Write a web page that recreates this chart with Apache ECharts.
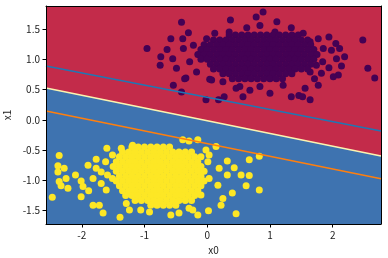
<!DOCTYPE html>
<html>
<head>
<meta charset="utf-8">
<script src="https://cdn.jsdelivr.net/npm/echarts@6/dist/echarts.min.js"></script>
<style>html,body{margin:0;padding:0;background:#fff}#c{width:388px;height:258px}</style>
</head>
<body>
<div id="c"></div>
<script>
const xTicks = [-2, -1, 0, 1, 2];
const yTicks = [-1.5, -1.0, -0.5, 0.0, 0.5, 1.0, 1.5];
const xRange = [-2.57, 2.77];
const yRange = [-1.72, 1.88];
const boundary = [[-2.57, 0.525], [2.77, -0.597]];
const marginUpper = [[-2.57, 0.888], [2.77, -0.185]];
const marginLower = [[-2.57, 0.145], [2.77, -0.972]];

const class0 = [
  [-0.41,1.61],[-0.96,1.18],[-0.74,1.04],[-0.75,0.90],[-0.64,1.16],[-0.58,1.34],[-0.30,1.44],[-0.39,1.34],
  [-0.55,1.01],[-0.49,0.85],[-0.34,0.69],[-0.54,0.57],[-0.41,0.46],[-0.01,1.34],[0.12,1.43],[-0.02,0.33],
  [0.18,0.33],[0.07,0.66],[-0.17,0.79],[-0.12,1.07],[-0.28,0.96],[-0.38,1.18],[-0.22,1.23],[-0.36,0.68],
  [0.89,1.78],[0.37,1.65],[0.78,1.70],[1.11,1.62],[1.34,1.52],[0.63,1.52],[0.35,1.45],[0.84,1.56],
  [1.08,1.45],[0.25,0.63],[0.52,0.55],[0.68,0.49],[1.00,0.44],[1.34,0.38],[0.27,0.38],[0.57,0.38],
  [1.46,0.40],[1.21,0.57],[0.84,0.55],[0.46,0.52],[0.04,0.67],
  [2.48,1.32],[2.56,0.85],[2.67,0.69],[1.94,1.37],[2.05,1.26],[2.11,1.18],[2.19,1.04],[2.14,0.89],
  [2.09,0.74],[2.01,0.71],[1.94,0.86],[1.82,0.77],[1.77,0.57],[1.71,0.68],[1.64,0.33],[1.52,0.38],
  [1.56,0.52],[1.53,1.43],[1.77,1.34],[1.64,1.29],[1.85,1.18],[1.98,1.15],[2.06,1.01],[1.84,0.96],
  [1.74,0.90],[1.64,0.79],
  [0.35,1.40],[0.45,1.40],[0.55,1.40],[0.65,1.40],[0.75,1.40],[0.85,1.40],[0.95,1.40],[1.05,1.40],[1.15,1.40],[1.25,1.40],[1.35,1.40],[1.45,1.40],
  [0.10,1.32],[0.20,1.32],[0.30,1.32],[0.40,1.32],[0.50,1.32],[0.60,1.32],[0.70,1.32],[0.80,1.32],[0.90,1.32],[1.00,1.32],[1.10,1.32],[1.20,1.32],[1.30,1.32],[1.40,1.32],[1.50,1.32],[1.60,1.32],
  [-0.05,1.24],[0.05,1.24],[0.15,1.24],[0.25,1.24],[0.35,1.24],[0.45,1.24],[0.55,1.24],[0.65,1.24],[0.75,1.24],[0.85,1.24],[0.95,1.24],[1.05,1.24],[1.15,1.24],[1.25,1.24],[1.35,1.24],[1.45,1.24],[1.55,1.24],[1.65,1.24],
  [-0.10,1.16],[0.00,1.16],[0.10,1.16],[0.20,1.16],[0.30,1.16],[0.40,1.16],[0.50,1.16],[0.60,1.16],[0.70,1.16],[0.80,1.16],[0.90,1.16],[1.00,1.16],[1.10,1.16],[1.20,1.16],[1.30,1.16],[1.40,1.16],[1.50,1.16],[1.60,1.16],[1.70,1.16],
  [-0.15,1.08],[-0.05,1.08],[0.05,1.08],[0.15,1.08],[0.25,1.08],[0.35,1.08],[0.45,1.08],[0.55,1.08],[0.65,1.08],[0.75,1.08],[0.85,1.08],[0.95,1.08],[1.05,1.08],[1.15,1.08],[1.25,1.08],[1.35,1.08],[1.45,1.08],[1.55,1.08],[1.65,1.08],[1.75,1.08],
  [-0.10,1.00],[0.00,1.00],[0.10,1.00],[0.20,1.00],[0.30,1.00],[0.40,1.00],[0.50,1.00],[0.60,1.00],[0.70,1.00],[0.80,1.00],[0.90,1.00],[1.00,1.00],[1.10,1.00],[1.20,1.00],[1.30,1.00],[1.40,1.00],[1.50,1.00],[1.60,1.00],[1.70,1.00],
  [0.05,0.92],[0.15,0.92],[0.25,0.92],[0.35,0.92],[0.45,0.92],[0.55,0.92],[0.65,0.92],[0.75,0.92],[0.85,0.92],[0.95,0.92],[1.05,0.92],[1.15,0.92],[1.25,0.92],[1.35,0.92],[1.45,0.92],[1.55,0.92],[1.65,0.92],
  [0.10,0.84],[0.20,0.84],[0.30,0.84],[0.40,0.84],[0.50,0.84],[0.60,0.84],[0.70,0.84],[0.80,0.84],[0.90,0.84],[1.00,0.84],[1.10,0.84],[1.20,0.84],[1.30,0.84],[1.40,0.84],[1.50,0.84],[1.60,0.84],
  [0.25,0.76],[0.35,0.76],[0.45,0.76],[0.55,0.76],[0.65,0.76],[0.75,0.76],[0.85,0.76],[0.95,0.76],[1.05,0.76],[1.15,0.76],[1.25,0.76],[1.35,0.76],
  [0.40,0.68],[0.50,0.68],[0.60,0.68],[0.70,0.68],[0.80,0.68],[0.90,0.68],[1.00,0.68],[1.10,0.68],[1.20,0.68]
];

const class1 = [
  [-1.60,-0.47],[-2.36,-0.59],[-2.38,-0.76],[-2.28,-0.80],[-2.38,-0.86],[-2.25,-0.97],[-2.36,-1.02],[-2.33,-1.09],
  [-2.22,-1.13],[-2.10,-0.91],[-2.01,-1.01],[-1.98,-1.10],[-1.89,-1.17],[-2.01,-1.27],[-2.47,-1.28],[-1.90,-0.75],
  [-1.77,-0.65],[-1.62,-0.69],[-1.82,-1.41],[-1.72,-1.41],[-1.66,-1.54],[-1.77,-0.80],[-1.82,-0.97],[-1.69,-0.86],
  [-1.59,-0.91],[-1.69,-1.05],[-1.61,-1.16],[-1.51,-0.97],[-1.51,-0.58],[-1.39,-1.61],[-1.24,-1.49],[-1.06,-1.49],
  [-0.92,-1.52],[-0.58,-1.57],[-0.45,-1.54],[-1.29,-1.38],[-1.37,-0.47],[-1.19,-0.42],[-0.39,-0.33],[-0.29,-0.35],
  [-0.15,-0.33],[0.14,-0.44],[-0.02,-0.50],[0.03,-0.58],[0.01,-0.69],[0.32,-0.68],[0.43,-0.79],[0.67,-0.66],
  [0.54,-0.91],[0.67,-0.92],[0.62,-1.09],[0.32,-0.91],[0.19,-0.80],[0.40,-1.21],[0.25,-1.30],[0.22,-1.41],
  [0.02,-1.50],[0.46,-1.55],[-0.15,-1.57],[-0.23,-1.49],[-0.10,-1.24],[0.17,-1.08],[0.03,-0.97],[0.83,-0.60],
  [0.83,-1.16],[-0.29,-1.46],
  [-1.20,-0.45],[-1.10,-0.45],[-1.00,-0.45],[-0.90,-0.45],[-0.80,-0.45],[-0.70,-0.45],[-0.60,-0.45],
  [-1.35,-0.53],[-1.25,-0.53],[-1.15,-0.53],[-1.05,-0.53],[-0.95,-0.53],[-0.85,-0.53],[-0.75,-0.53],[-0.65,-0.53],[-0.55,-0.53],[-0.45,-0.53],[-0.35,-0.53],[-0.25,-0.53],
  [-1.40,-0.61],[-1.30,-0.61],[-1.20,-0.61],[-1.10,-0.61],[-1.00,-0.61],[-0.90,-0.61],[-0.80,-0.61],[-0.70,-0.61],[-0.60,-0.61],[-0.50,-0.61],[-0.40,-0.61],[-0.30,-0.61],[-0.20,-0.61],[-0.10,-0.61],
  [-1.45,-0.69],[-1.35,-0.69],[-1.25,-0.69],[-1.15,-0.69],[-1.05,-0.69],[-0.95,-0.69],[-0.85,-0.69],[-0.75,-0.69],[-0.65,-0.69],[-0.55,-0.69],[-0.45,-0.69],[-0.35,-0.69],[-0.25,-0.69],[-0.15,-0.69],
  [-1.50,-0.77],[-1.40,-0.77],[-1.30,-0.77],[-1.20,-0.77],[-1.10,-0.77],[-1.00,-0.77],[-0.90,-0.77],[-0.80,-0.77],[-0.70,-0.77],[-0.60,-0.77],[-0.50,-0.77],[-0.40,-0.77],[-0.30,-0.77],[-0.20,-0.77],[-0.10,-0.77],
  [-1.45,-0.85],[-1.35,-0.85],[-1.25,-0.85],[-1.15,-0.85],[-1.05,-0.85],[-0.95,-0.85],[-0.85,-0.85],[-0.75,-0.85],[-0.65,-0.85],[-0.55,-0.85],[-0.45,-0.85],[-0.35,-0.85],[-0.25,-0.85],[-0.15,-0.85],[-0.05,-0.85],
  [-1.40,-0.93],[-1.30,-0.93],[-1.20,-0.93],[-1.10,-0.93],[-1.00,-0.93],[-0.90,-0.93],[-0.80,-0.93],[-0.70,-0.93],[-0.60,-0.93],[-0.50,-0.93],[-0.40,-0.93],[-0.30,-0.93],[-0.20,-0.93],[-0.10,-0.93],
  [-1.45,-1.01],[-1.35,-1.01],[-1.25,-1.01],[-1.15,-1.01],[-1.05,-1.01],[-0.95,-1.01],[-0.85,-1.01],[-0.75,-1.01],[-0.65,-1.01],[-0.55,-1.01],[-0.45,-1.01],[-0.35,-1.01],[-0.25,-1.01],[-0.15,-1.01],[-0.05,-1.01],
  [-1.40,-1.09],[-1.30,-1.09],[-1.20,-1.09],[-1.10,-1.09],[-1.00,-1.09],[-0.90,-1.09],[-0.80,-1.09],[-0.70,-1.09],[-0.60,-1.09],[-0.50,-1.09],[-0.40,-1.09],[-0.30,-1.09],[-0.20,-1.09],[-0.10,-1.09],
  [-1.35,-1.17],[-1.25,-1.17],[-1.15,-1.17],[-1.05,-1.17],[-0.95,-1.17],[-0.85,-1.17],[-0.75,-1.17],[-0.65,-1.17],[-0.55,-1.17],[-0.45,-1.17],[-0.35,-1.17],[-0.25,-1.17],[-0.15,-1.17],
  [-1.30,-1.25],[-1.20,-1.25],[-1.10,-1.25],[-1.00,-1.25],[-0.90,-1.25],[-0.80,-1.25],[-0.70,-1.25],[-0.60,-1.25],[-0.50,-1.25],[-0.40,-1.25],[-0.30,-1.25],[-0.20,-1.25],
  [-1.15,-1.33],[-1.05,-1.33],[-0.95,-1.33],[-0.85,-1.33],[-0.75,-1.33],[-0.65,-1.33],[-0.55,-1.33],[-0.45,-1.33],[-0.35,-1.33],[-0.25,-1.33],
  [-0.90,-1.41],[-0.80,-1.41],[-0.70,-1.41],[-0.60,-1.41],[-0.50,-1.41]
];

const FONT = '"Noto Sans CJK SC", "DejaVu Sans", sans-serif';
const chart = echarts.init(document.getElementById('c'), null, {renderer: 'canvas'});
const fmt = v => (Math.abs(v) < 1e-9 ? '0.0' : v.toFixed(1));
chart.setOption({
  animation: false,
  grid: {left: 46, top: 6, right: 7, bottom: 34, outerBoundsMode: 'none', containLabel: false},
  xAxis: [{
    type: 'value', min: xRange[0], max: xRange[1], z: 10,
    name: 'x0', nameLocation: 'middle', nameGap: 17,
    nameTextStyle: {color: '#222', fontSize: 10, fontFamily: FONT},
    axisLine: {show: true, onZero: false, lineStyle: {color: '#000', width: 1}},
    axisTick: {show: true, inside: false, length: 3.5, lineStyle: {color: '#000'}, customValues: xTicks},
    axisLabel: {show: true, color: '#222', fontSize: 10, fontFamily: FONT, margin: 6, customValues: xTicks,
      formatter: v => String(v)},
    splitLine: {show: false}
  }, {
    type: 'value', position: 'top', min: xRange[0], max: xRange[1], z: 10,
    axisLine: {show: true, onZero: false, lineStyle: {color: '#000', width: 1}},
    axisTick: {show: false}, axisLabel: {show: false}, splitLine: {show: false}
  }],
  yAxis: [{
    type: 'value', min: yRange[0], max: yRange[1], z: 10,
    name: 'x1', nameLocation: 'middle', nameGap: 30, nameRotate: 90,
    nameTextStyle: {color: '#222', fontSize: 10, fontFamily: FONT},
    axisLine: {show: true, onZero: false, lineStyle: {color: '#000', width: 1}},
    axisTick: {show: true, inside: false, length: 3.5, lineStyle: {color: '#000'}, customValues: yTicks},
    axisLabel: {show: true, color: '#222', fontSize: 10, fontFamily: FONT, margin: 6, customValues: yTicks,
      formatter: fmt},
    splitLine: {show: false}
  }, {
    type: 'value', position: 'right', min: yRange[0], max: yRange[1], z: 10,
    axisLine: {show: true, onZero: false, lineStyle: {color: '#000', width: 1}},
    axisTick: {show: false}, axisLabel: {show: false}, splitLine: {show: false}
  }],
  series: [
    {type: 'line', data: boundary, symbol: 'none', z: 1, silent: true,
      lineStyle: {width: 0}, areaStyle: {origin: 'end', color: '#c32b4a', opacity: 1}},
    {type: 'line', data: boundary, symbol: 'none', z: 1, silent: true,
      lineStyle: {width: 0}, areaStyle: {origin: 'start', color: '#3e73b0', opacity: 1}},
    {type: 'line', data: boundary, symbol: 'none', z: 2, silent: true,
      lineStyle: {width: 1.5, color: '#fbf3b0'}},
    {type: 'scatter', data: class0, symbolSize: 7, z: 3,
      itemStyle: {color: '#440154', opacity: 1}},
    {type: 'scatter', data: class1, symbolSize: 7, z: 3,
      itemStyle: {color: '#fde725', opacity: 1}},
    {type: 'line', data: marginUpper, symbol: 'none', z: 4, silent: true,
      lineStyle: {width: 1.5, color: '#1f77b4'}},
    {type: 'line', data: marginLower, symbol: 'none', z: 4, silent: true,
      lineStyle: {width: 1.5, color: '#ff7f0e'}}
  ]
});
</script>
</body>
</html>
